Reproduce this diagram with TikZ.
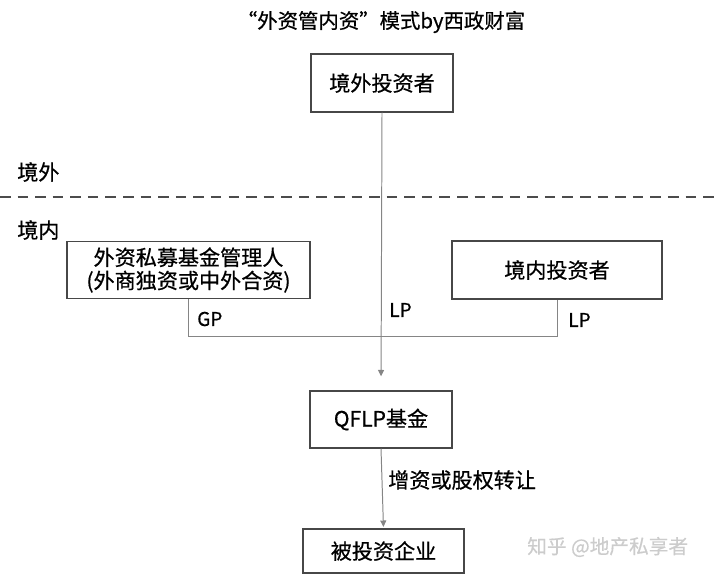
\documentclass[tikz,border=0pt]{standalone}
\usepackage{fontspec}
\setmainfont{Noto Sans CJK SC}[UprightFeatures={FakeBold=0.6}]
\usetikzlibrary{arrows.meta}

\begin{document}
\begin{tikzpicture}[x=0.025cm,y=-0.025cm,>={Triangle[length=1.6mm,width=1.5mm]},
  font=\fontsize{15}{16.5}\selectfont,
  box/.style={draw=black!72,line width=1pt,align=center,inner sep=0pt},
  conn/.style={draw=black!48,line width=0.7pt},
  lbl/.style={anchor=west,inner sep=0pt,font=\fontsize{13.5}{16}\selectfont}]
\useasboundingbox (0,0) rectangle (720,578);
\node[inner sep=0pt,font=\fontsize{14.5}{17}\selectfont] (title) at (381,22) {“外资管内资”模式by西政财富};
% boxes
\node[box,minimum width=3.55cm,minimum height=1.45cm] (fi) at (382,83) {境外投资者};
\node[box,minimum width=6.08cm,minimum height=1.42cm] (mgr) at (188.5,270) {外资私募基金管理人\\(外商独资或中外合资)};
\node[box,minimum width=5.25cm,minimum height=1.45cm] (dom) at (557,270) {境内投资者};
\node[box,minimum width=3.55cm,minimum height=1.42cm] (qflp) at (381,419.5) {QFLP基金};
\node[box,minimum width=4.03cm,minimum height=1.1cm] (co) at (383.5,551) {被投资企业};
% border
\node[anchor=west,inner sep=0pt] (out) at (17,172) {境外};
\node[anchor=west,inner sep=0pt] (in) at (17,230) {境内};
\coordinate (dl) at (0,197);
\coordinate (dr) at (720,197);
\draw[black!70,line width=0.8pt,dash pattern=on 7.5pt off 5pt] (dl) -- (dr);
% connectors
\draw[conn,->,shorten >=0.35cm] (fi.south) -- (qflp.north);
\draw[conn] (mgr.south) |- (dom.south |- 0,336) -- (dom.south);
\draw[conn,->,shorten >=1pt] (qflp.south) -- (co.north);
\node[lbl] (gp) at (197,319) {GP};
\node[lbl] (lp1) at (389,310) {LP};
\node[lbl] (lp2) at (568,320) {LP};
\node[anchor=west,inner sep=0pt] (deal) at (388,480) {增资或股权转让};
\node[anchor=west,inner sep=0pt,text=black!20,font=\fontsize{14}{16}\selectfont] (mark) at (527,547) {知乎 @地产私享者};
\end{tikzpicture}
\end{document}
